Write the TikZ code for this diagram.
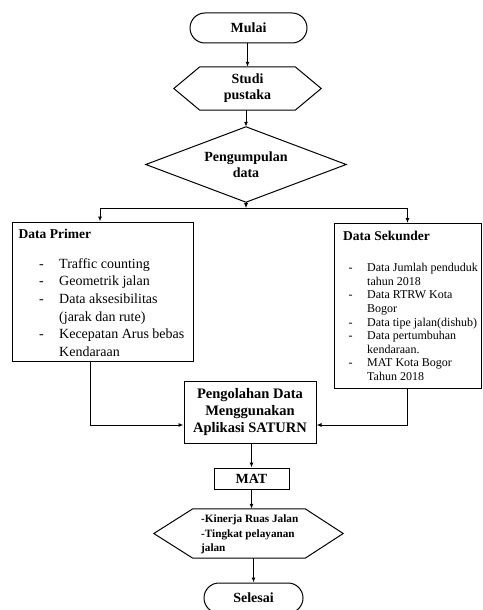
\documentclass[tikz,border=0pt]{standalone}
\usepackage{fontspec}
\setmainfont{Liberation Serif}
\usetikzlibrary{shapes.misc,arrows.meta}
\begin{document}
\begin{tikzpicture}[x=1pt,y=-1pt,
  ln/.style={line width=1pt, draw=black},
  arr/.style={ln, -{Latex[length=5pt,width=4pt]}},
  term/.style={rounded rectangle, draw, line width=1pt, inner sep=0pt,
    font=\fontsize{14}{16}\selectfont\bfseries},
  frame/.style={rectangle, inner sep=0pt},
  boxed/.style={rectangle, draw, line width=1pt, inner sep=0pt},
  txt/.style={anchor=base west, inner sep=0pt},
]
\useasboundingbox (0,0) rectangle (482,610);
\clip (0,0) rectangle (482,610);

% start
\node[term, minimum width=117pt, minimum height=30pt] (mulai) at (248.5,28) {Mulai};

% studi pustaka (hexagon)
\node[frame, minimum width=147pt, minimum height=43pt, align=center,
  font=\fontsize{14}{16}\selectfont\bfseries] (studi) at (247.5,88.5) {Studi\\pustaka};
\draw[ln] ([xshift=26pt]studi.north west) -- ([xshift=-26pt]studi.north east)
  -- (studi.east) -- ([xshift=-26pt]studi.south east)
  -- ([xshift=26pt]studi.south west) -- (studi.west) -- cycle;

% pengumpulan data (diamond)
\node[frame, minimum width=200pt, minimum height=75pt, align=center,
  font=\fontsize{14}{16.5}\selectfont\bfseries] (diam) at (246,164.5) {Pengumpulan\\data};
\draw[ln] (diam.north) -- (diam.east) -- (diam.south) -- (diam.west) -- cycle;

\draw[arr] (studi.north |- mulai.south) -- (studi.north);
\draw[arr] (diam.north |- studi.south) -- (diam.north);

\coordinate (split) at ([yshift=-6pt]diam.south);
\draw[arr] (diam.south) -- (split);

% data boxes
\node[boxed, minimum width=181pt, minimum height=139pt] (primer) at (102.5,291.5) {};
\node[boxed, minimum width=147pt, minimum height=165pt] (sekunder) at (407.5,306) {};

\draw[arr] (split) -| ([xshift=-2.5pt]primer.north);
\draw[arr] (split) -| (sekunder.north);

\node[txt, font=\fontsize{13.5}{16}\selectfont\bfseries] (ptitle) at (18.5,238) {Data Primer};
\node[txt, font=\fontsize{13.5}{16}\selectfont\bfseries] (stitle) at (343,240) {Data Sekunder};

\node[txt, font=\fontsize{14}{17.7}\selectfont] (plist) at (39,268)
  {\begin{tabular}[t]{@{}p{20pt}@{}l@{}}
   -&Traffic counting\\
   -&Geometrik jalan\\
   -&Data aksesibilitas\\
    &(jarak dan rute)\\
   -&Kecepatan Arus bebas\\
    &Kendaraan
   \end{tabular}};

\node[txt, font=\fontsize{12}{13.6}\selectfont] (slist) at (348.5,271.7)
  {\begin{tabular}[t]{@{}p{18.5pt}@{}l@{}}
   -&Data Jumlah penduduk\\
    &tahun 2018\\
   -&Data RTRW Kota\\
    &Bogor\\
   -&Data tipe jalan(dishub)\\
   -&Data pertumbuhan\\
    &kendaraan.\\
   -&MAT Kota Bogor\\
    &Tahun 2018
   \end{tabular}};

% processing
\node[boxed, minimum width=132pt, minimum height=62pt, align=center,
  font=\fontsize{14.5}{16.7}\selectfont\bfseries] (peng) at (250,412)
  {Pengolahan Data\\Menggunakan\\Aplikasi SATURN};

\draw[arr] ([xshift=-12.5pt]primer.south) |- ([yshift=-13pt]peng.west);
\draw[arr] (sekunder.south) |- ([yshift=-13pt]peng.east);

% MAT
\node[boxed, minimum width=75pt, minimum height=21pt,
  font=\fontsize{14}{16}\selectfont\bfseries] (mat) at (251.5,478.5) {MAT};
\draw[arr] (mat.north |- peng.south) -- (mat.north);

% result (hexagon)
\node[frame, minimum width=189pt, minimum height=49pt] (hasil) at (248.5,533.5) {};
\draw[ln] ([xshift=39pt]hasil.north west) -- ([xshift=-38pt]hasil.north east)
  -- (hasil.east) -- ([xshift=-38pt]hasil.south east)
  -- ([xshift=39pt]hasil.south west) -- (hasil.west) -- cycle;
\node[txt, font=\fontsize{11.2}{14.5}\selectfont\bfseries] (hasiltext) at (201,522.7)
  {\begin{tabular}[t]{@{}l@{}}
   -Kinerja Ruas Jalan\\
   -Tingkat pelayanan\\
   jalan
   \end{tabular}};
\draw[arr] (mat.south) -- (mat.south |- hasil.north);

% end
\node[term, minimum width=99pt, minimum height=30pt] (selesai) at (253.5,598) {Selesai};
\draw[arr] (selesai.north |- hasil.south) -- (selesai.north);
\end{tikzpicture}
\end{document}
